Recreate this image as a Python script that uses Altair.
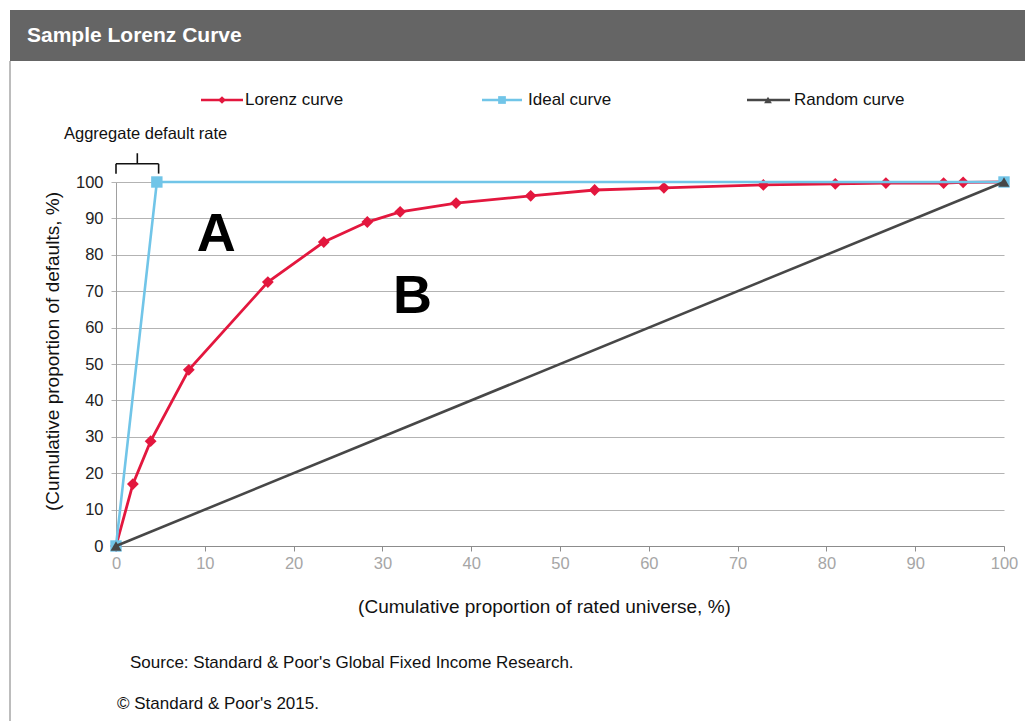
import altair as alt
import pandas as pd

# ---- data ----
lorenz_x = [0, 1.9, 3.9, 8.2, 17.1, 23.4, 28.3, 32.0, 38.3, 46.7, 53.9, 61.7, 72.9, 81.0, 86.7, 93.2, 95.4, 100]
lorenz_y = [0, 17.0, 28.8, 48.4, 72.5, 83.5, 89.0, 91.8, 94.2, 96.2, 97.8, 98.4, 99.2, 99.5, 99.7, 99.7, 99.9, 100]
lorenz_marked = [True] * 17 + [False]
ideal_x = [0, 4.6, 100]
ideal_y = [0, 100, 100]
random_x = [0, 100]
random_y = [0, 100]

series_names = ["Lorenz curve", "Ideal curve", "Random curve"]
series_colors = ["#E3173E", "#71C5E8", "#474747"]
series_shapes = ["diamond", "square", "triangle-up"]

x_ticks = list(range(0, 101, 10))
y_ticks = list(range(0, 101, 10))

title_text = "Sample Lorenz Curve"
x_title = "(Cumulative proportion of rated universe, %)"
y_title = "(Cumulative proportion of defaults, %)"
source_text = "Source: Standard & Poor's Global Fixed Income Research."
copyright_text = "\u00a9 Standard & Poor's 2015."
annot_text = "Aggregate default rate"

FONT = "Liberation Sans"
W, H = 888, 364

lor = pd.DataFrame({"x": lorenz_x, "y": lorenz_y, "m": lorenz_marked})
ide = pd.DataFrame({"x": ideal_x, "y": ideal_y})
ran = pd.DataFrame({"x": random_x, "y": random_y})

xs = alt.Scale(domain=[0, 100], nice=False, zero=False)
ys = alt.Scale(domain=[0, 100], nice=False, zero=False)

x_axis = alt.Axis(values=x_ticks, tickCount=11, grid=False, domainColor="#8c8c8c", tickColor="#8c8c8c",
                  tickSize=5, labelColor="#a6a6a6", labelFont=FONT, labelFontSize=16.5,
                  labelPadding=4, labelOverlap=False, labelFlush=False,
                  title=x_title, titleFont=FONT, titleFontSize=19,
                  titleFontWeight="normal", titleColor="#111111", titleX=428, titleY=60,
                  titleBaseline="middle", titleAnchor="middle", titleAlign="center")
y_axis = alt.Axis(values=y_ticks, tickCount=11, grid=True, gridColor="#b3b3b3", gridWidth=1.2,
                  domainColor="#a0a0a0", tickColor="#b3b3b3", tickSize=5,
                  labelColor="#222222", labelFont=FONT, labelFontSize=16.5, labelPadding=8,
                  labelOverlap=False, labelFlush=False,
                  title=y_title, titleFont=FONT, titleFontSize=19, titleFontWeight="normal",
                  titleColor="#111111", titleX=-64, titleY=169, titleAngle=-90,
                  titleBaseline="middle", titleAlign="center", titleAnchor="middle")

X = alt.X("x:Q", scale=xs, axis=x_axis)
Y = alt.Y("y:Q", scale=ys, axis=y_axis)

lor_line = alt.Chart(lor).mark_line(color=series_colors[0], strokeWidth=2.8).encode(x=X, y=Y)
lor_pts = alt.Chart(lor).transform_filter("datum.m").mark_point(
    shape=series_shapes[0], filled=True, color=series_colors[0], size=140, opacity=1
).encode(x=X, y=Y)

ide_line = alt.Chart(ide).mark_line(color=series_colors[1], strokeWidth=2.6).encode(x=X, y=Y)
ide_pts = alt.Chart(ide).mark_point(shape=series_shapes[1], filled=True, color=series_colors[1],
                                    size=130, opacity=1).encode(x=X, y=Y)

ran_line = alt.Chart(ran).mark_line(color=series_colors[2], strokeWidth=2.6).encode(x=X, y=Y)
ran_pts = alt.Chart(ran).mark_point(shape=series_shapes[2], filled=True, color=series_colors[2],
                                    size=120, opacity=1).encode(x=X, y=Y)

# ---- header band and frame ----
header = alt.Chart(pd.DataFrame({"a": [0]})).mark_rect(color="#656565").encode(
    x=alt.value(-106), x2=alt.value(909), y=alt.value(-172), y2=alt.value(-121))
header_txt = alt.Chart(pd.DataFrame({"t": [title_text]})).mark_text(
    font=FONT, fontSize=21, fontWeight="bold", color="white", align="left", baseline="middle"
).encode(text="t:N", x=alt.value(-89), y=alt.value(-146))
frame = alt.Chart(pd.DataFrame({"a": [0]})).mark_rule(color="#7a7a7a", strokeWidth=1).encode(
    x=alt.value(-106), y=alt.value(-121), y2=alt.value(539))

# ---- legend (manual) ----
leg = pd.DataFrame({
    "name": series_names, "color": series_colors, "shape": series_shapes,
    "x1": [85, 366, 631], "x2": [127, 406, 674], "xm": [106, 386, 652], "xt": [129, 412, 678],
})
leg_lines = alt.Chart(leg).mark_rule(strokeWidth=2.6).encode(
    x=alt.X("x1:Q", scale=None), x2="x2:Q", y=alt.value(-82),
    color=alt.Color("color:N", scale=None))
leg_pts = alt.Chart(leg).mark_point(filled=True, size=60, opacity=1).encode(
    x=alt.X("xm:Q", scale=None), y=alt.value(-82),
    color=alt.Color("color:N", scale=None), shape=alt.Shape("shape:N", scale=None))
leg_txt = alt.Chart(leg).mark_text(font=FONT, fontSize=17, color="#111111", align="left",
                                   baseline="middle").encode(
    x=alt.X("xt:Q", scale=None), y=alt.value(-82), text="name:N")

# ---- annotations ----
annot = alt.Chart(pd.DataFrame({"t": [annot_text]})).mark_text(
    font=FONT, fontSize=16.5, color="#111111", align="left", baseline="middle"
).encode(text="t:N", x=alt.value(-52), y=alt.value(-48))

brace_h = pd.DataFrame({"x": [0], "x2": [4.8], "y": [105.0], "y2": [105.0]})
brace_v = pd.DataFrame({"x": [0, 4.8, 2.4], "y": [102.3, 102.3, 105.0], "y2": [105.0, 105.0, 107.9]})
brace1 = alt.Chart(brace_h).mark_rule(color="#111111", strokeWidth=1.6).encode(
    x=X, x2="x2:Q", y=Y)
brace2 = alt.Chart(brace_v).mark_rule(color="#111111", strokeWidth=1.6).encode(
    x=X, y=Y, y2="y2:Q")

letters = pd.DataFrame({"t": ["A", "B"], "x": [11.3, 33.4], "y": [85.4, 68.3]})
letter_mk = alt.Chart(letters).mark_text(font=FONT, fontSize=54, fontWeight="bold",
                                         color="#000000", align="center", baseline="middle").encode(
    x=X, y=Y, text="t:N")

foot = pd.DataFrame({"t": [source_text, copyright_text], "px": [14, 1], "py": [481, 522]})
foot_txt = alt.Chart(foot).mark_text(font=FONT, fontSize=17, color="#111111", align="left",
                                     baseline="middle").encode(
    x=alt.X("px:Q", scale=None), y=alt.Y("py:Q", scale=None), text="t:N")

chart = alt.layer(
    lor_line, header, header_txt, frame, leg_lines, leg_pts, leg_txt, annot, brace1, brace2,
    lor_pts, ide_line, ide_pts, ran_line, ran_pts, letter_mk, foot_txt
).properties(
    width=W, height=H,
    autosize=alt.AutoSizeParams(type="none"),
    padding={"left": 116, "top": 182, "right": 21, "bottom": 175},
    background="white",
).configure_view(stroke=None)

chart.save("out.html", embed_options={"renderer": "svg", "actions": False})
